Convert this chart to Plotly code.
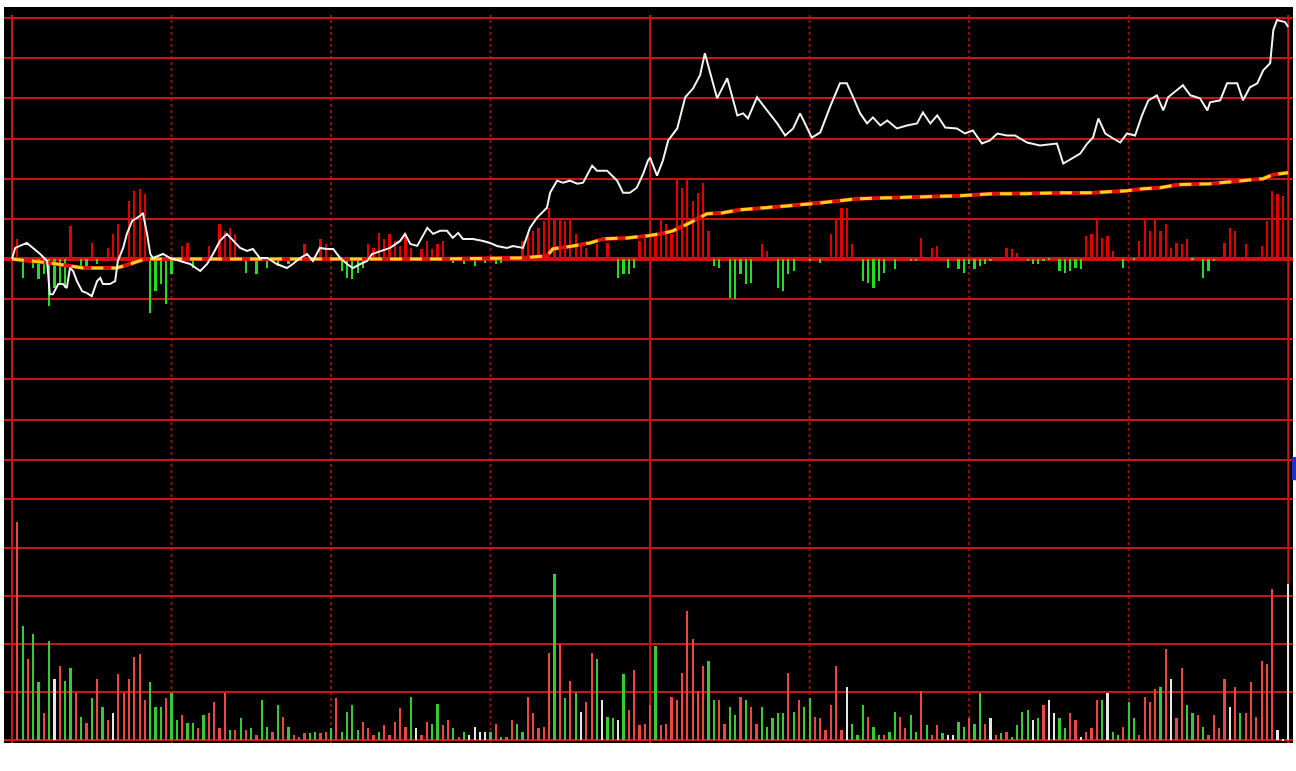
import plotly.graph_objects as go

# ---------------- data ----------------
# intraday minute index (0..240) and price change (grid units, prev close = 0)
price_min = [0, 0.6, 2.8, 3.9, 5.3, 6.6, 7.1, 7.7, 8.7, 9.6, 10.3, 10.9, 11.5, 12.2, 13.2, 14.1, 15.0, 16.0, 16.6, 17.1,
             18.4, 19.4, 19.9, 20.9, 21.6, 22.6, 24.1, 24.6, 25.4, 26.0, 26.5, 28.4, 29.7, 31.6, 33.5, 35.4, 36.7, 37.8,
             39.1, 40.4, 41.6, 42.9, 44.2, 45.3, 46.6, 48.0, 49.8, 51.7, 52.8, 54.2, 55.5, 56.6, 57.9, 59.2, 60.4, 61.7,
             63.0, 64.1, 65.5, 66.8, 67.7, 69.2, 71.1, 73.0, 73.9, 74.9, 76.2, 78.1, 79.2, 80.5, 81.8, 82.9, 83.9, 84.8,
             86.7, 88.6, 89.9, 91.2, 93.1, 94.2, 96.1, 97.4, 98.7, 100.6, 101.2, 102.5, 103.6, 104.9, 106.3, 107.4,
             109.1, 110.0, 111.9, 113.8, 114.9, 116.2, 117.5, 118.7, 119.6, 120.0, 121.3, 122.4, 123.4, 125.1, 126.6,
             128.1, 129.4, 130.3, 131.7, 132.6, 134.5, 136.4, 137.5, 138.4, 140.1, 142.0, 143.9, 145.4, 146.9, 148.2,
             149.5, 150.4, 152.0, 153.8, 155.7, 157.0, 158.2, 159.5, 160.8, 161.9, 163.3, 164.6, 166.4, 168.3, 170.2,
             171.3, 172.7, 174.0, 175.5, 177.7, 179.2, 180.7, 182.4, 183.9, 185.3, 187.1, 188.6, 190.9, 193.3, 196.5,
             197.7, 199.6, 200.9, 202.2, 203.3, 204.3, 205.6, 207.1, 208.4, 209.7, 211.2, 212.5, 213.7, 215.3, 216.5,
             217.4, 219.1, 220.2, 221.6, 223.4, 224.8, 225.3, 227.2, 228.5, 230.4, 231.5, 232.8, 234.2, 235.3, 236.6,
             237.2, 237.9, 239.4, 240.0]
price_val = [0, 0.275, 0.4, 0.275, 0.125, -0.05, -0.875, -0.875, -0.625, -0.625, -0.725, -0.225, -0.3, -0.55, -0.8,
             -0.85, -0.925, -0.55, -0.475, -0.625, -0.625, -0.55, -0.05, 0.275, 0.625, 0.95, 1.075, 1.15, 0.625, 0.125,
             0.025, 0.125, 0.025, -0.05, -0.125, -0.3, -0.125, 0.125, 0.45, 0.625, 0.45, 0.275, 0.2, 0.25, 0.025, 0.025,
             -0.125, -0.225, -0.125, 0.025, 0.125, -0.05, 0.275, 0.25, 0.25, 0.025, -0.125, -0.225, -0.125, -0.05,
             0.125, 0.2, 0.275, 0.45, 0.625, 0.375, 0.325, 0.775, 0.625, 0.7, 0.7, 0.525, 0.65, 0.5, 0.5, 0.45, 0.4,
             0.325, 0.275, 0.325, 0.275, 0.775, 1.025, 1.275, 1.65, 1.95, 1.9, 1.95, 1.875, 1.9, 2.325, 2.2, 2.2, 1.95,
             1.65, 1.65, 1.775, 2.125, 2.45, 2.525, 2.075, 2.45, 2.95, 3.25, 4.025, 4.25, 4.575, 5.125, 4.45, 4.0, 4.5,
             3.575, 3.625, 3.5, 4.025, 3.7, 3.375, 3.075, 3.25, 3.625, 3.25, 3.025, 3.15, 3.775, 4.375, 4.375, 4.025,
             3.625, 3.375, 3.525, 3.325, 3.45, 3.25, 3.325, 3.375, 3.65, 3.375, 3.575, 3.275, 3.25, 3.125, 3.2, 2.875,
             2.95, 3.125, 3.075, 3.075, 2.9, 2.825, 2.875, 2.375, 2.525, 2.625, 2.875, 3.025, 3.5, 3.125, 3.0, 2.9,
             3.125, 3.075, 3.575, 3.95, 4.075, 3.7, 4.025, 4.2, 4.325, 4.075, 4.0, 3.7, 3.9, 3.95, 4.375, 4.375, 3.95,
             4.275, 4.375, 4.7, 4.875, 5.7, 5.95, 5.9, 5.775]

# average price line
avg_min = [0, 7.1, 13.4, 19.7, 22.2, 25.0, 79.6, 95.5, 100.6, 101.7, 105.5, 108.7, 111.2, 115.7, 119.4, 121.9, 124.3,
           127.5, 130.7, 133.7, 136.9, 142.0, 146.3, 150.6, 155.7, 158.9, 165.1, 171.3, 178.3, 184.5, 190.9, 197.1,
           203.3, 209.7, 212.7, 215.9, 219.1, 225.3, 231.5, 235.3, 237.2, 240.0]
avg_val = [0, -0.1, -0.225, -0.225, -0.125, 0, 0, 0.025, 0.075, 0.25, 0.325, 0.4, 0.5, 0.525, 0.575, 0.625, 0.7, 0.9,
           1.125, 1.15, 1.225, 1.275, 1.325, 1.375, 1.45, 1.5, 1.525, 1.55, 1.575, 1.625, 1.625, 1.65, 1.65, 1.7, 1.75,
           1.775, 1.85, 1.875, 1.95, 2.0, 2.1, 2.15]

# buy/sell strength bars around the previous-close line (positive red, negative green)
force_min = [1, 2, 4, 5, 6, 7, 8, 9, 10, 11, 13, 14, 15, 16, 18, 19, 20, 22, 23, 24, 25, 26, 27, 28, 29, 30, 32, 33,
             34, 37, 39, 40, 41, 42, 44, 46, 48, 50, 52, 55, 58, 59, 62, 63, 64, 65, 66, 67, 68, 69, 70, 71, 72, 73,
             74, 75, 77, 78, 79, 80, 81, 83, 85, 87, 89, 91, 92, 96, 97, 98, 99, 100, 101, 102, 103, 104, 105, 106,
             107, 108, 110, 112, 114, 115, 116, 117, 118, 119, 120, 121, 122, 123, 124, 125, 126, 127, 128, 129, 130,
             131, 132, 133, 135, 136, 137, 138, 139, 141, 142, 144, 145, 146, 147, 150, 152, 154, 155, 156, 157, 158,
             160, 161, 162, 163, 164, 166, 169, 170, 171, 173, 174, 176, 178, 179, 180, 181, 182, 183, 184, 187, 188,
             189, 191, 192, 193, 194, 195, 197, 198, 199, 200, 201, 202, 203, 204, 205, 206, 207, 209, 211, 212, 213,
             214, 215, 216, 217, 218, 219, 220, 221, 222, 224, 225, 226, 228, 229, 230, 232, 233, 235, 236, 237, 238,
             239]
force_val = [0.5, -0.475, -0.225, -0.5, -0.375, -1.175, -0.725, -0.6, -0.725, 0.825, -0.225, -0.225, 0.4, -0.125,
             0.275, 0.625, 0.875, 1.45, 1.7, 1.75, 1.625, -1.35, -0.8, -0.625, -1.125, -0.375, 0.325, 0.4, -0.225,
             0.325, 0.875, 0.7, 0.775, 0.625, -0.35, -0.375, -0.225, -0.175, -0.125, 0.375, 0.5, 0.375, -0.3, -0.475,
             -0.5, -0.35, -0.225, 0.375, 0.275, 0.65, 0.5, 0.625, 0.45, 0.325, 0.625, 0.275, 0.25, 0.45, 0.25, 0.375,
             0.45, -0.1, -0.125, -0.175, -0.1, -0.125, -0.1, 0.45, 0.625, 0.7, 0.775, 0.95, 1.275, 1.025, 1.0, 0.95,
             1.025, 0.625, 0.4, 0.275, 0.375, 0.4, -0.475, -0.375, -0.375, -0.225, 0.45, 0.625, 0.5, 0.625, 1.025,
             0.875, 0.625, 2.025, 1.775, 2.025, 1.45, 1.65, 1.9, 0.7, -0.175, -0.225, -0.975, -1.0, -0.375, -0.625,
             -0.6, 0.375, 0.2, -0.725, -0.8, -0.375, -0.3, -0.05, -0.1, 0.625, 1.025, 1.275, 1.275, 0.375, -0.55,
             -0.6, -0.725, -0.55, -0.35, -0.25, -0.05, -0.05, 0.525, 0.275, 0.325, -0.225, -0.25, -0.35, -0.125,
             -0.25, -0.175, -0.125, -0.05, 0.275, 0.25, 0.15, -0.05, -0.125, -0.125, -0.05, -0.03, -0.3, -0.35, -0.3,
             -0.225, -0.25, 0.575, 0.625, 1.025, 0.525, 0.575, 0.2, -0.225, -0.03, 0.45, 1.025, 0.7, 1.025, 0.7,
             0.875, 0.275, 0.4, 0.375, 0.5, -0.03, -0.475, -0.3, -0.05, 0.4, 0.775, 0.7, 0.375, 0.03, 0.325, 0.95,
             1.7, 1.625, 1.575]

# volume per minute (1..240), grid units, and tick direction (1 up/red, -1 down/green, 0 flat/white)
vol_min = list(range(1, 241))
vol_val = [4.55, 2.38, 1.69, 2.2, 1.2, 0.56, 2.07, 1.28, 1.55, 1.24, 1.51, 0.97, 0.48, 0.35, 0.87, 1.28, 0.68, 0.41,
           0.56, 1.38, 0.97, 1.28, 1.72, 1.79, 0.83, 1.2, 0.68, 0.68, 0.87, 0.97, 0.41, 0.52, 0.35, 0.35, 0.25, 0.52,
           0.56, 0.79, 0.25, 0.97, 0.21, 0.21, 0.45, 0.21, 0.25, 0.1, 0.83, 0.28, 0.17, 0.72, 0.48, 0.28, 0.1, 0.07,
           0.14, 0.14, 0.17, 0.14, 0.17, 0.25, 0.87, 0.17, 0.58, 0.72, 0.21, 0.37, 0.25, 0.1, 0.17, 0.31, 0.1, 0.37,
           0.66, 0.28, 0.9, 0.25, 0.1, 0.37, 0.34, 0.76, 0.31, 0.41, 0.25, 0.07, 0.17, 0.1, 0.28, 0.17, 0.17, 0.17,
           0.34, 0.07, 0.07, 0.41, 0.34, 0.17, 0.9, 0.56, 0.25, 0.28, 1.82, 3.45, 2.0, 0.87, 1.24, 0.97, 0.58, 0.79,
           1.82, 1.69, 0.83, 0.48, 0.45, 0.41, 1.38, 0.62, 1.45, 0.31, 0.34, 0.72, 1.96, 0.31, 0.34, 0.9, 0.83, 1.4,
           2.69, 2.1, 1.03, 1.55, 1.65, 0.83, 0.83, 0.34, 0.68, 0.52, 0.9, 0.83, 0.68, 0.34, 0.68, 0.28, 0.45, 0.56,
           0.56, 1.4, 0.58, 0.83, 0.68, 0.87, 0.48, 0.45, 0.21, 0.72, 1.55, 0.21, 1.1, 0.34, 0.1, 0.72, 0.48, 0.28,
           0.1, 0.1, 0.17, 0.58, 0.48, 0.25, 0.52, 0.17, 1.03, 0.31, 0.1, 0.31, 0.14, 0.1, 0.1, 0.37, 0.28, 0.45,
           0.34, 0.97, 0.34, 0.45, 0.1, 0.14, 0.17, 0.07, 0.31, 0.58, 0.62, 0.41, 0.45, 0.72, 0.83, 0.56, 0.45, 0.25,
           0.56, 0.41, 0.07, 0.17, 0.25, 0.83, 0.83, 0.97, 0.17, 0.1, 0.28, 0.79, 0.45, 0.1, 0.9, 0.79, 1.07, 1.1,
           1.9, 1.28, 0.45, 1.51, 0.72, 0.56, 0.52, 0.28, 0.1, 0.52, 0.25, 1.28, 0.68, 1.1, 0.56, 0.56, 1.2, 0.48,
           1.65, 1.59, 3.14, 0.21, 0.03, 3.26]
vol_dir = [1, -1, 1, -1, -1, 1, -1, 0, 1, -1, -1, 1, -1, 1, -1, 1, -1, 1, 0, 1, 1, 1, 1, 1, 1, -1, -1, -1, 1, -1,
           -1, 1, -1, -1, 1, -1, 1, 1, 1, 1, -1, 1, -1, 1, -1, 1, -1, -1, 1, -1, 1, -1, 1, 1, 1, -1, -1, 1, 1, -1,
           1, -1, -1, -1, -1, 1, 1, 1, -1, 1, 1, 1, 1, 1, -1, 0, 1, 1, -1, -1, 1, 1, -1, 1, -1, 0, 0, 0, 0, -1,
           1, -1, 1, 1, -1, -1, 1, 1, 1, 1, 1, -1, 1, -1, 1, -1, 0, 1, 1, -1, 0, -1, -1, 0, -1, 1, 1, 1, 1, 1,
           -1, 1, 1, 1, 1, 1, 1, 1, 1, 1, -1, -1, 1, 1, -1, -1, 1, -1, 1, 1, -1, -1, -1, -1, -1, 1, -1, 1, -1, -1,
           1, 1, 1, 1, 1, 1, 0, -1, -1, -1, 1, -1, -1, 1, -1, -1, 1, 1, -1, -1, 1, -1, 1, 1, -1, 0, 0, -1, -1, 1,
           -1, -1, 1, 0, 1, -1, 1, -1, -1, -1, -1, 0, -1, 1, 0, 0, -1, -1, 1, 1, 0, 1, 1, 1, -1, 0, -1, -1, 1, -1,
           -1, 1, 1, 1, 1, -1, 1, 0, 1, 1, -1, -1, 1, -1, 1, 1, 1, 1, 0, 1, -1, 1, 1, 1, 1, 1, 1, 0, 0, 0]

# ---------------- styling ----------------
GRID = "#c81616"
DOT = "#8c1212"
UP_BAR = "#e00000"
DN_BAR = "#22dd22"
VOL_COL = {1: "#ee4444", -1: "#33cc33", 0: "#e6e6e6"}

fig = go.Figure()

# strength bars (top panel)
fig.add_trace(go.Bar(
    x=force_min, y=force_val, width=0.42,
    marker=dict(color=[UP_BAR if v > 0 else DN_BAR for v in force_val], line=dict(width=0)),
    xaxis="x", yaxis="y", showlegend=False, hoverinfo="skip"))

# average price line (red core with yellow dashes)
fig.add_trace(go.Scatter(x=avg_min, y=avg_val, mode="lines",
                         line=dict(color="#e01010", width=4), xaxis="x", yaxis="y",
                         showlegend=False, hoverinfo="skip"))
fig.add_trace(go.Scatter(x=avg_min, y=avg_val, mode="lines",
                         line=dict(color="#ffd21a", width=3, dash="12px,8px"), xaxis="x", yaxis="y",
                         showlegend=False, hoverinfo="skip"))

# price line
fig.add_trace(go.Scatter(x=price_min, y=price_val, mode="lines",
                         line=dict(color="#f2f2f2", width=2), xaxis="x", yaxis="y",
                         showlegend=False, hoverinfo="skip"))

# volume bars (bottom panel)
fig.add_trace(go.Bar(
    x=vol_min, y=vol_val, width=0.42,
    marker=dict(color=[VOL_COL[d] for d in vol_dir], line=dict(width=0)),
    xaxis="x", yaxis="y2", showlegend=False, hoverinfo="skip"))

split = 0.3302
shapes = []
# vertical half-hour lines
for m in [30, 60, 90, 150, 180, 210]:
    shapes.append(dict(type="line", xref="x", yref="paper", x0=m, x1=m, y0=0, y1=0.989,
                       line=dict(color=DOT, width=2, dash="dot"), layer="below"))
for m in [0, 120, 240]:
    shapes.append(dict(type="line", xref="x", yref="paper", x0=m, x1=m, y0=0, y1=0.989,
                       line=dict(color=GRID, width=2), layer="below"))
# panel separator
shapes.append(dict(type="line", xref="paper", yref="y", x0=0, x1=1, y0=-6, y1=-6,
                   line=dict(color="#d01414", width=4), layer="below"))
# small blue marker at right edge
shapes.append(dict(type="rect", xref="paper", yref="paper", x0=0.9992, x1=1.0025, y0=0.357, y1=0.3886,
                   fillcolor="#2a2ad0", line=dict(width=0), layer="above"))

fig.update_layout(
    width=1296, height=771,
    margin=dict(l=4, r=3, t=7, b=28),
    paper_bgcolor="white", plot_bgcolor="black",
    bargap=0, barmode="overlay",
    xaxis=dict(range=[-1.505, 240.9], showgrid=False, zeroline=False, showticklabels=False,
               ticks="", anchor="y2", fixedrange=True),
    yaxis=dict(domain=[split, 1], range=[-6, 6.274], tickvals=[-5, -4, -3, -2, -1, 1, 2, 3, 4, 5, 6],
               showgrid=True, gridcolor=GRID, gridwidth=2, zeroline=True, zerolinecolor="#d01414",
               zerolinewidth=4, showticklabels=False, ticks="", fixedrange=True),
    yaxis2=dict(domain=[0, split], range=[-0.0625, 5], tickvals=[0, 1, 2, 3, 4],
                showgrid=True, gridcolor=GRID, gridwidth=2, zeroline=False,
                showticklabels=False, ticks="", fixedrange=True),
    shapes=shapes,
)

fig.write_html("out.html", config={"displayModeBar": False},
               post_script="document.body.style.margin='0px';document.body.style.padding='0px';")
